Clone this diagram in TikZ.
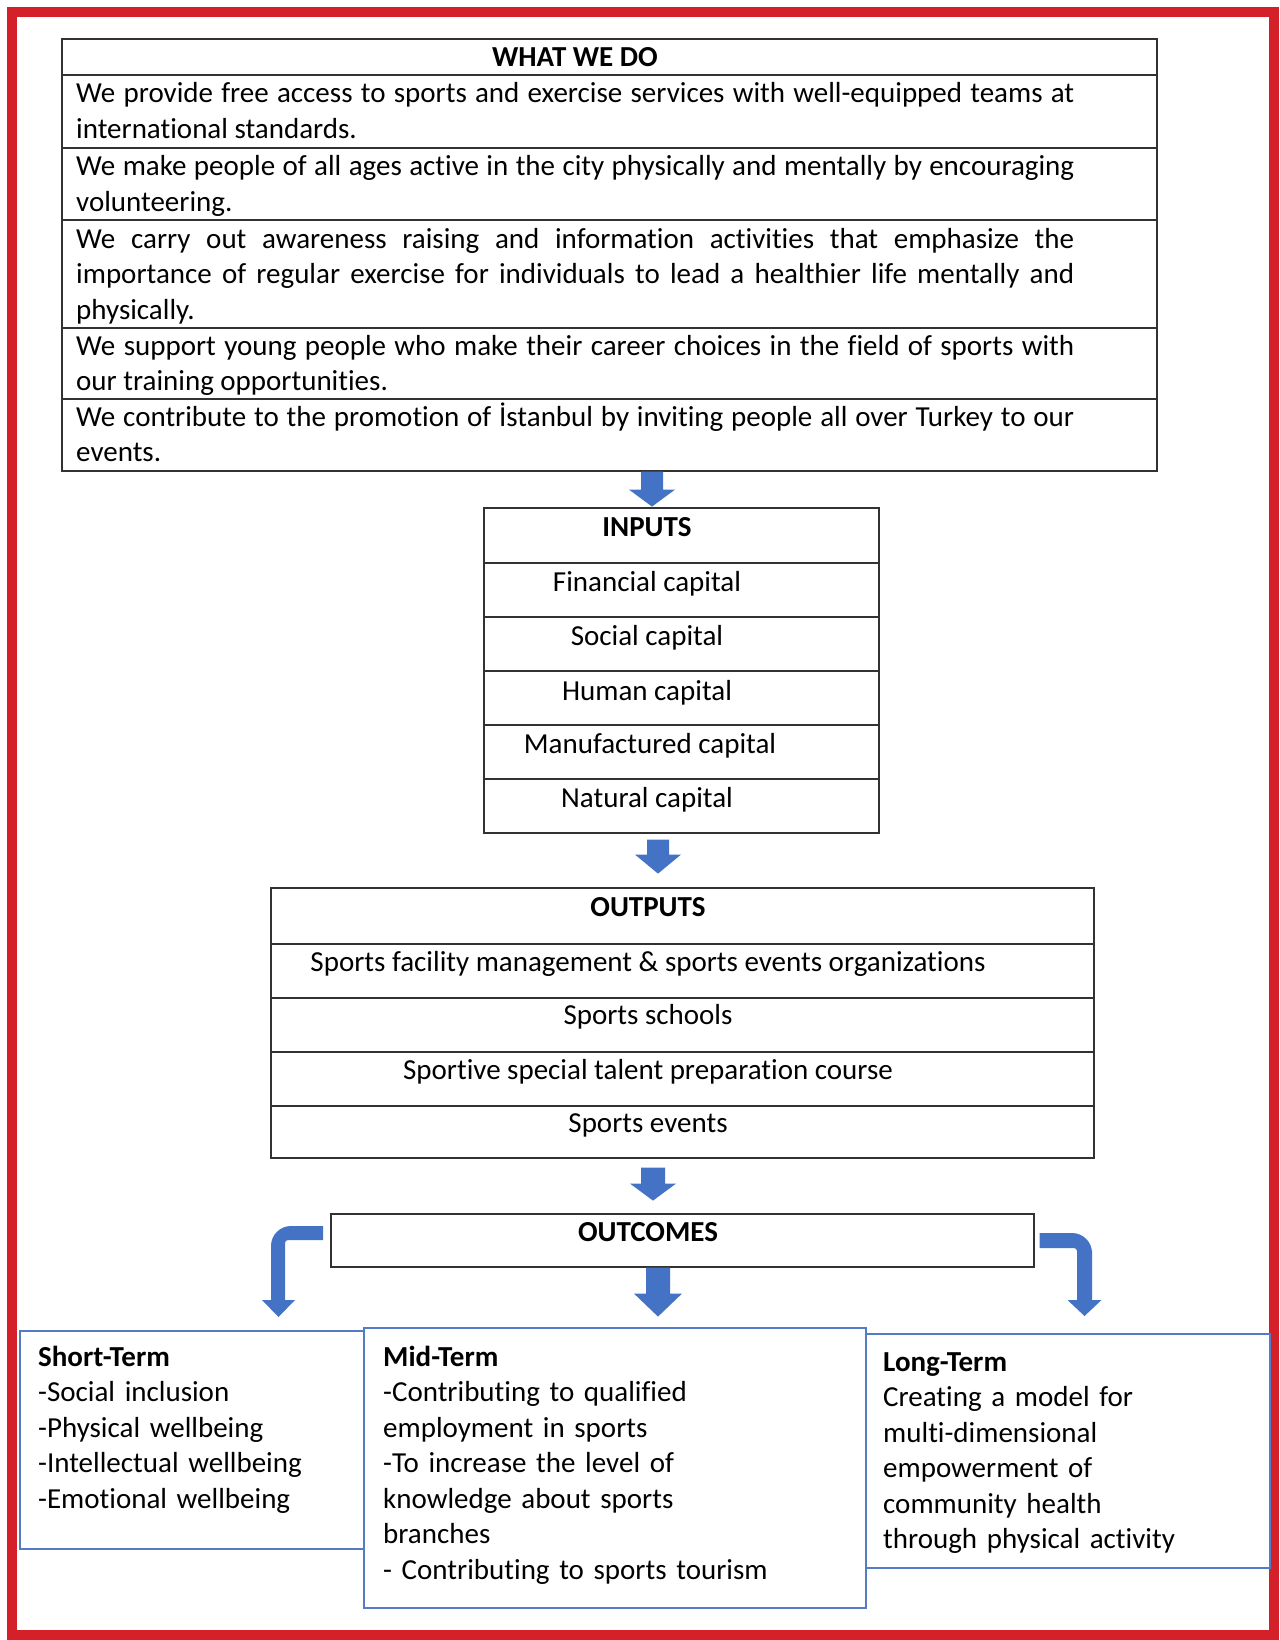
\documentclass[tikz,border=0pt]{standalone}
\usepackage{fontspec}
\setmainfont[Ligatures=NoCommon]{Carlito}
\definecolor{framered}{RGB}{211,32,41}
\definecolor{tblline}{RGB}{50,50,50}
\definecolor{boxblue}{RGB}{84,124,196}
\definecolor{arrowblue}{RGB}{68,114,196}
\begin{document}
\begin{tikzpicture}[x=1pt,y=-1pt,
  font=\fontsize{29pt}{35.5pt}\selectfont,
  tbl/.style={draw=tblline, line width=1.6pt, rectangle, anchor=north west, inner sep=0pt},
  bbox/.style={draw=boxblue, line width=1.8pt, rectangle, anchor=north west, inner sep=0pt},
  para/.style={anchor=base west, inner sep=0pt, text width=998pt, align=justify},
  lst/.style={anchor=base west, inner sep=0pt, text width=#1},
  ctr/.style={anchor=base, inner sep=0pt},
  hd/.style={anchor=base, inner sep=0pt, font=\fontsize{29pt}{35.5pt}\selectfont\bfseries},
  blk/.style={fill=arrowblue, draw=none}]
\useasboundingbox (0,0) rectangle (1279,1640);
\fill[white] (0,0) rectangle (1279,1640);
\draw[framered, line width=10pt] (12,12) rectangle (1274,1635);

% WHAT WE DO table
\node[tbl, minimum width=1095pt, minimum height=36pt] (wwdh) at (61,38) {};
\node[tbl, minimum width=1095pt, minimum height=73pt] (wwd1) at (61,74) {};
\node[tbl, minimum width=1095pt, minimum height=72pt] (wwd2) at (61,147) {};
\node[tbl, minimum width=1095pt, minimum height=108pt] (wwd3) at (61,219) {};
\node[tbl, minimum width=1095pt, minimum height=71pt] (wwd4) at (61,327) {};
\node[tbl, minimum width=1095pt, minimum height=72pt] (wwd5) at (61,398) {};
\node[hd] (twwd) at (575,67) {WHAT WE DO};
\node[para] (tw1) at (76,103) {We provide free access to sports and exercise services with well-equipped teams at\linebreak international standards.};
\node[para] (tw2) at (76,176) {We make people of all ages active in the city physically and mentally by encouraging\linebreak volunteering.};
\node[para] (tw3) at (76,248) {We carry out awareness raising and information activities that emphasize the\linebreak importance of regular exercise for individuals to lead a healthier life mentally and\linebreak physically.};
\node[para] (tw4) at (76,355) {We support young people who make their career choices in the field of sports with\linebreak our training opportunities.};
\node[para] (tw5) at (76,426) {We contribute to the promotion of İstanbul by inviting people all over Turkey to our\linebreak events.};

% INPUTS table
\node[tbl, minimum width=395pt, minimum height=55pt] (inh) at (483,507) {};
\node[tbl, minimum width=395pt, minimum height=54pt] (in1) at (483,562) {};
\node[tbl, minimum width=395pt, minimum height=54pt] (in2) at (483,616) {};
\node[tbl, minimum width=395pt, minimum height=54pt] (in3) at (483,670) {};
\node[tbl, minimum width=395pt, minimum height=54pt] (in4) at (483,724) {};
\node[tbl, minimum width=395pt, minimum height=54pt] (in5) at (483,778) {};
\node[hd] (tinh) at (647,536) {INPUTS};
\node[ctr] (tin1) at (647,591) {Financial capital};
\node[ctr] (tin2) at (647,645) {Social capital};
\node[ctr] (tin3) at (647,700) {Human capital};
\node[ctr] (tin4) at (650,753) {Manufactured capital};
\node[ctr] (tin5) at (647,807) {Natural capital};

% OUTPUTS table
\node[tbl, minimum width=823pt, minimum height=56pt] (outh) at (270,887) {};
\node[tbl, minimum width=823pt, minimum height=54pt] (out1) at (270,943) {};
\node[tbl, minimum width=823pt, minimum height=54pt] (out2) at (270,997) {};
\node[tbl, minimum width=823pt, minimum height=54pt] (out3) at (270,1051) {};
\node[tbl, minimum width=823pt, minimum height=52pt] (out4) at (270,1105) {};
\node[hd] (touth) at (648,916) {OUTPUTS};
\node[ctr] (tout1) at (648,971) {Sports facility management \& sports events organizations};
\node[ctr] (tout2) at (648,1024) {Sports schools};
\node[ctr] (tout3) at (648,1079) {Sportive special talent preparation course};
\node[ctr] (tout4) at (648,1132) {Sports events};

% OUTCOMES
\node[tbl, minimum width=703pt, minimum height=53pt] (outc) at (330,1213) {};
\node[hd] (toutc) at (648,1241) {OUTCOMES};

% Term boxes
\node[bbox, minimum width=344pt, minimum height=218pt] (short) at (19,1330) {};
\node[bbox, minimum width=429pt, minimum height=234pt] (long) at (840,1333) {};
\node[bbox, fill=white, minimum width=502pt, minimum height=280pt] (mid) at (363,1327) {};
\node[lst=320pt] (tshort) at (38,1366) {\textbf{Short-Term}\\-Social inclusion\\-Physical wellbeing\\-Intellectual wellbeing\\-Emotional wellbeing};
\node[lst=470pt] (tmid) at (383,1366) {\textbf{Mid-Term}\\-Contributing to qualified\\employment in sports\\-To increase the level of\\knowledge about sports\\branches\\- Contributing to sports tourism};
\node[lst=380pt] (tlong) at (883,1371) {\textbf{Long-Term}\\Creating a model for\\multi-dimensional\\empowerment of\\community health\\through physical activity};

% block arrows (connectors)
\coordinate (a1) at (wwd5.south -| 652,0);
\fill[blk] (a1) ++(-11,0) -- ++(0,18) -- ++(-12,0) -- ++(23,17) -- ++(23,-17) -- ++(-12,0) -- ++(0,-18) -- cycle;
\coordinate (a2) at (in5.south -| 658,0);
\fill[blk] (a2) ++(-11,6) -- ++(0,15) -- ++(-12,0) -- ++(23,19) -- ++(23,-19) -- ++(-12,0) -- ++(0,-15) -- cycle;
\coordinate (a3) at (out4.south -| 653,0);
\fill[blk] (a3) ++(-12,9) -- ++(0,16) -- ++(-11,0) -- ++(23,17) -- ++(23,-17) -- ++(-11,0) -- ++(0,-16) -- cycle;
\coordinate (a4) at (outc.south -| 658,0);
\fill[blk] (a4) ++(-12,0) -- ++(0,26) -- ++(-12,0) -- ++(24,23) -- ++(24,-23) -- ++(-12,0) -- ++(0,-26) -- cycle;

% bent arrows
\coordinate (bl) at (outc.west |- 0,1226);
\fill[blk] ([xshift=-7pt]bl) [rounded corners=20pt] -- (271,1226) -- (271,1270) [sharp corners] -- (271,1300) -- (262,1300) -- (278.5,1317) -- (295,1300) -- (285,1300) [rounded corners=3pt] -- (285,1240) [sharp corners] -- ([xshift=-7pt,yshift=-14pt]bl) -- cycle;
\coordinate (br) at (outc.east |- 0,1233);
\fill[blk] ([xshift=5pt]br) [rounded corners=20pt] -- (1092,1233) -- (1092,1270) [sharp corners] -- (1092,1300) -- (1101.5,1300) -- (1084.5,1316) -- (1067.5,1300) -- (1077,1300) [rounded corners=3pt] -- (1077,1248) [sharp corners] -- ([xshift=5pt,yshift=-15pt]br) -- cycle;
\end{tikzpicture}
\end{document}
